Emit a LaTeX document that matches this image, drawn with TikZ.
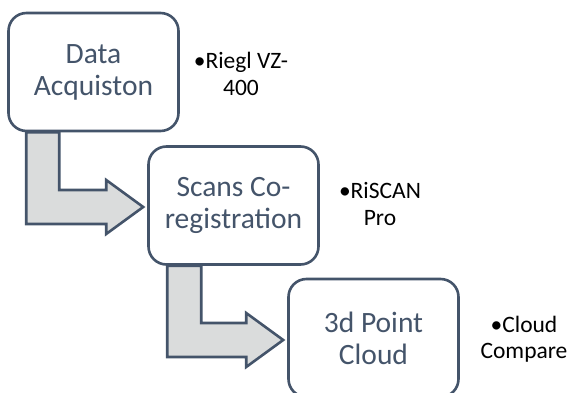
\documentclass[tikz,border=0pt]{standalone}
\usepackage{fontspec}
\setmainfont{Carlito}
\usepackage{tikz}
\usetikzlibrary{positioning, calc}
\definecolor{boxslate}{RGB}{68,84,106}
\definecolor{arrowgray}{RGB}{218,220,220}
\tikzset{
  stagebox/.style={
    rectangle, rounded corners=18pt,
    minimum width=170pt, minimum height=118pt,
    draw=boxslate, line width=2.6pt, fill=white,
    text=boxslate, align=center, inner sep=0pt,
    font=\fontsize{29.5}{32}\selectfont
  },
  toolnote/.style={align=center, text=black, inner sep=0pt,
    font=\fontsize{23.5}{26.5}\selectfont},
  bentarrow/.style={draw=boxslate, line width=2.6pt, fill=arrowgray, line join=miter}
}

\begin{document}
\begin{tikzpicture}[x=1pt, y=-1pt]
  \useasboundingbox (0,0) rectangle (571,393);

  % Draw the three stages
  \node[stagebox] (data) at (93.5,72) {Data\\Acquiston};
  \node[stagebox] (scans) at (233.5,205.5) {Scans Co-\\registration};
  \node[stagebox] (cloud) at (373.5,338) {3d Point\\Cloud};

  % Draw the bent arrows between stages
  \coordinate (s1) at ($(data.south west)+(19,0)$);
  \coordinate (s2) at ($(data.south west)+(52,0)$);
  \coordinate (t1) at ($(scans.west)+(-4,1.5)$);
  \draw[bentarrow] (t1) -- ++(-37,-27) -- ++(0,10) -| (s2) -- (s1)
    |- ($(t1)+(-37,17)$) -- ++(0,10) -- cycle;

  \coordinate (s3) at ($(scans.south west)+(20,0)$);
  \coordinate (s4) at ($(scans.south west)+(54,0)$);
  \coordinate (t2) at ($(cloud.west)+(-4,2)$);
  \draw[bentarrow] (t2) -- ++(-37,-27) -- ++(0,10) -| (s4) -- (s3)
    |- ($(t2)+(-37,17)$) -- ++(0,10) -- cycle;

  % Tool notes
  \node[toolnote] (riegl) at (241,74) {•Riegl VZ-\\400};
  \node[toolnote] (riscan) at (380,204) {•RiSCAN\\Pro};
  \node[toolnote] (cloudcmp) at (524,339) {•Cloud\\Compare};
\end{tikzpicture}
\end{document}
